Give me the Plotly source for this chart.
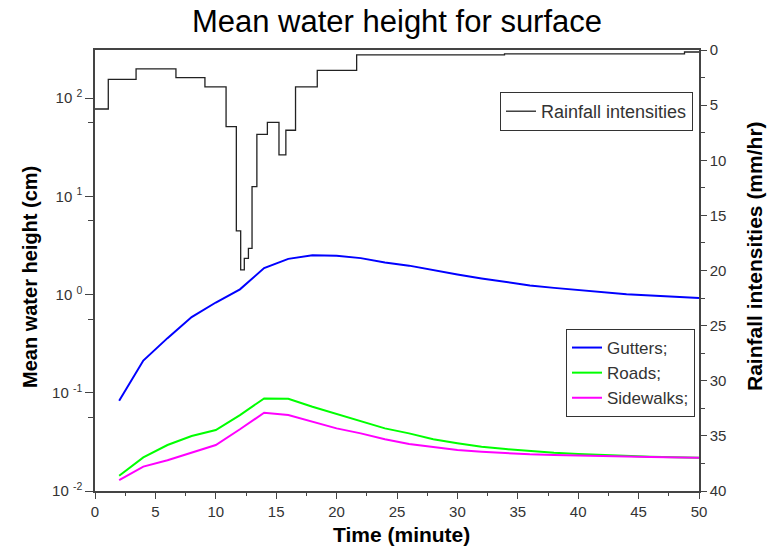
import plotly.graph_objects as go

# ---- data ----
time_min = [2, 4, 6, 8, 10, 12, 14, 16, 18, 20, 22, 24, 26, 28, 30, 32, 34, 36, 38, 40, 42, 44, 46, 48, 50]
gutters = [0.083, 0.213, 0.36, 0.59, 0.83, 1.13, 1.86, 2.31, 2.51, 2.48, 2.35, 2.12, 1.97, 1.77, 1.6,
           1.46, 1.34, 1.24, 1.17, 1.11, 1.06, 1.01, 0.98, 0.95, 0.92]
roads = [0.0143, 0.022, 0.0294, 0.0363, 0.0418, 0.0593, 0.0877, 0.087, 0.0721, 0.0607, 0.0515, 0.0434,
         0.0386, 0.0336, 0.0306, 0.0282, 0.0267, 0.0255, 0.0245, 0.0238, 0.0232, 0.0227, 0.0223, 0.022, 0.0218]
sidewalks = [0.0129, 0.0177, 0.0206, 0.0245, 0.0294, 0.0425, 0.0626, 0.0593, 0.0507, 0.0434, 0.0386, 0.0336,
             0.0301, 0.0278, 0.0261, 0.0251, 0.0242, 0.0236, 0.0232, 0.0228, 0.0226, 0.0224, 0.0222, 0.022, 0.0218]

rain_t = [0, 1.1, 3.4, 6.7, 9.1, 10.85, 11.7, 12.06, 12.36, 12.7, 13.0, 13.4, 14.27, 15.23, 15.8, 16.6,
          18.4, 21.66, 33.9, 48.8, 50]
rain_v = [5.35, 2.66, 1.72, 2.51, 3.35, 6.95, 16.4, 19.95, 18.9, 18.0, 12.4, 7.65, 6.56, 9.52, 7.28, 3.35,
          1.84, 0.45, 0.36, 0.18, 0.18]

y_tickvals = [0.01, 0.1, 1, 10, 100]
y_ticktext = ["10 <sup>-2</sup>", "10 <sup>-1</sup>", "10 <sup>0</sup>", "10 <sup>1</sup>", "10 <sup>2</sup>"]
y_minor = [10 ** -1.25, 10 ** -0.25, 10 ** 0.75, 10 ** 1.75]

FONT = "Liberation Sans, Arial, sans-serif"
AX = "#444444"
TXT = "#333333"

fig = go.Figure()
fig.add_trace(go.Scatter(x=time_min, y=gutters, mode="lines", name="Gutters;",
                         line=dict(color="#0000ff", width=2), legend="legend"))
fig.add_trace(go.Scatter(x=time_min, y=roads, mode="lines", name="Roads;",
                         line=dict(color="#00ff00", width=2), legend="legend"))
fig.add_trace(go.Scatter(x=time_min, y=sidewalks, mode="lines", name="Sidewalks;",
                         line=dict(color="#ff00ff", width=2), legend="legend"))
fig.add_trace(go.Scatter(x=rain_t, y=rain_v, mode="lines", name="Rainfall intensities",
                         line=dict(color="#222222", width=1.3, shape="hv"),
                         yaxis="y2", legend="legend2"))

fig.update_layout(
    width=769, height=549,
    margin=dict(l=95, r=70, t=50, b=58),
    paper_bgcolor="white", plot_bgcolor="white",
    font=dict(family=FONT, size=15, color=TXT),
    title=dict(text="Mean water height for surface", x=(397 / 769), xanchor="center",
               y=1 - 21 / 549, yanchor="middle", yref="container",
               font=dict(family=FONT, size=31, color="black")),
    xaxis=dict(range=[0, 50], dtick=5, tick0=0, showgrid=False, zeroline=False,
               showline=True, linecolor=AX, linewidth=1.5, mirror=True,
               ticks="outside", ticklen=6, tickcolor=AX, tickwidth=1.2,
               minor=dict(dtick=2.5, tick0=0, ticks="outside", ticklen=3, tickcolor=AX, tickwidth=1.2),
               tickfont=dict(size=15, color=TXT)),
    yaxis=dict(type="log", range=[-2, 2.49], showgrid=False, zeroline=False,
               showline=True, linecolor=AX, linewidth=1.5,
               tickmode="array", tickvals=y_tickvals, ticktext=y_ticktext,
               ticks="outside", ticklen=8, tickcolor=AX, tickwidth=1.2,
               minor=dict(tickmode="array", tickvals=y_minor, ticks="outside", ticklen=5,
                          tickcolor=AX, tickwidth=1.2),
               tickfont=dict(size=15, color=TXT)),
    yaxis2=dict(overlaying="y", side="right", range=[40, 0], dtick=5, tick0=0,
                showgrid=False, zeroline=False, showline=True, linecolor=AX, linewidth=1.5,
                ticks="outside", ticklen=6, tickcolor=AX, tickwidth=1.2,
                minor=dict(dtick=2.5, tick0=0, ticks="outside", ticklen=4, tickcolor=AX, tickwidth=1.2),
                tickfont=dict(size=15, color=TXT)),
    legend=dict(x=(695 - 95) / 604, xanchor="right", y=(491 - 329) / 441, yanchor="top",
                bordercolor="#333333", borderwidth=1, bgcolor="white",
                font=dict(family=FONT, size=17, color=TXT), tracegroupgap=0),
    legend2=dict(x=(693 - 95) / 604, xanchor="right", y=(491 - 92) / 441, yanchor="top",
                 bordercolor="#333333", borderwidth=1, bgcolor="white",
                 font=dict(family=FONT, size=18, color=TXT)),
    showlegend=True,
)

fig.add_annotation(text="<b>Time (minute)</b>", xref="paper", yref="paper",
                   x=(401 - 95) / 604, y=(491 - 534) / 441, showarrow=False,
                   xanchor="center", yanchor="middle", font=dict(family=FONT, size=21, color="black"))
fig.add_annotation(text="<b>Mean water height (cm)</b>", xref="paper", yref="paper",
                   x=(30 - 95) / 604, y=(491 - 277) / 441, showarrow=False, textangle=-90,
                   xanchor="center", yanchor="middle", font=dict(family=FONT, size=20, color="black"))
fig.add_annotation(text="<b>Rainfall intensities (mm/hr)</b>", xref="paper", yref="paper",
                   x=(754 - 95) / 604, y=(491 - 256) / 441, showarrow=False, textangle=-90,
                   xanchor="center", yanchor="middle", font=dict(family=FONT, size=21, color="black"))

fig.write_html("out.html")
